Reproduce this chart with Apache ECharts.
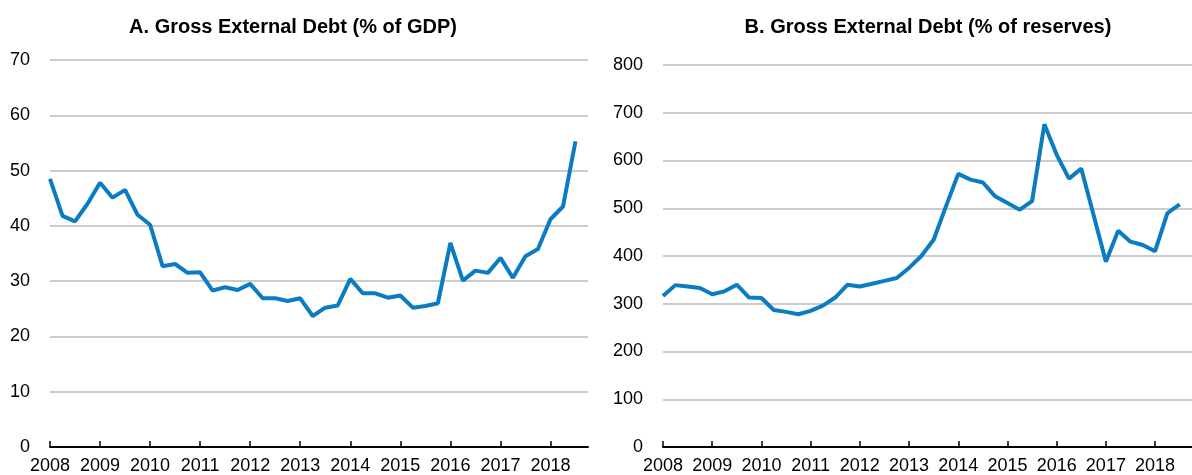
<!DOCTYPE html>
<html>
<head>
<meta charset="utf-8">
<script src="https://cdn.jsdelivr.net/npm/echarts@6/dist/echarts.min.js"></script>
<style>
  html, body { margin: 0; padding: 0; background: #fff; }
  #main { width: 1192px; height: 475px; }
</style>
</head>
<body>
<div id="main"></div>
<script>
// quarterly categories 2008Q1 .. 2018Q4
const quarters = []
for (let y = 2008; y <= 2018; y++) {
  for (let q = 1; q <= 4; q++) quarters.push(y + 'Q' + q)
}

// A. gross external debt, % of GDP (2008Q1 .. 2018Q3)
const debtGdp = [
  48.5, 41.8, 40.8, 44.0, 47.8, 45.1, 46.5, 42.0, 40.2, 32.7,
  33.1, 31.5, 31.6, 28.3, 28.9, 28.4, 29.5, 26.9, 26.9, 26.4,
  26.9, 23.7, 25.2, 25.6, 30.4, 27.8, 27.8, 27.0, 27.4, 25.2,
  25.5, 26.0, 36.9, 30.1, 31.9, 31.5, 34.2, 30.6, 34.5, 35.8,
  41.2, 43.5, 55.3
]

// B. gross external debt, % of reserves (2008Q1 .. 2018Q3)
const debtReserves = [
  316, 339, 336, 333, 320, 326, 340, 313, 312, 287,
  283, 278, 285, 296, 313, 340, 336, 342, 348, 354,
  375, 400, 434, 504, 572, 560, 554, 525, 511, 497,
  515, 676, 612, 562, 583, 486, 388, 453, 430, 423,
  410, 490, 508
]

const titleA = 'A. Gross External Debt (% of GDP)'
const titleB = 'B. Gross External Debt (% of reserves)'

const FONT = "'Liberation Sans', Arial, sans-serif"
const BLUE = '#0b7cc1'
const GRID = '#cccccc'

function xAxisFor(gridIndex) {
  return {
    type: 'category',
    gridIndex: gridIndex,
    data: quarters,
    boundaryGap: false,
    axisLine: { lineStyle: { color: '#000', width: 2 } },
    axisTick: { inside: true, length: 6, interval: 3, lineStyle: { color: '#000', width: 1.5 } },
    axisLabel: {
      interval: 3,
      margin: 10,
      color: '#000',
      fontFamily: FONT,
      fontSize: 18,
      formatter: v => v.slice(0, 4)
    },
    splitLine: { show: false }
  }
}

function yAxisFor(gridIndex, max, step) {
  return {
    type: 'value',
    gridIndex: gridIndex,
    min: 0,
    max: max,
    interval: step,
    axisLine: { show: false },
    axisTick: { show: false },
    axisLabel: { margin: 20, color: '#000', fontFamily: FONT, fontSize: 18 },
    splitLine: { lineStyle: { color: GRID, width: 2 } }
  }
}

const chart = echarts.init(document.getElementById('main'), null, { renderer: 'canvas' })
chart.setOption({
  animation: false,
  title: [
    { text: titleA, left: 288, top: 12, textAlign: 'center',
      textStyle: { fontFamily: FONT, fontWeight: 'bold', fontSize: 20, color: '#000' } },
    { text: titleB, left: 923, top: 12, textAlign: 'center',
      textStyle: { fontFamily: FONT, fontWeight: 'bold', fontSize: 20, color: '#000' } }
  ],
  grid: [
    { left: 50, right: 604, top: 60, bottom: 28 },
    { left: 663, right: -8, top: 65, bottom: 27 }
  ],
  xAxis: [xAxisFor(0), xAxisFor(1)],
  yAxis: [yAxisFor(0, 70, 10), yAxisFor(1, 800, 100)],
  series: [
    { type: 'line', xAxisIndex: 0, yAxisIndex: 0, data: debtGdp, showSymbol: false,
      lineStyle: { color: BLUE, width: 4 }, itemStyle: { color: BLUE } },
    { type: 'line', xAxisIndex: 1, yAxisIndex: 1, data: debtReserves, showSymbol: false,
      lineStyle: { color: BLUE, width: 4 }, itemStyle: { color: BLUE } }
  ]
})
</script>
</body>
</html>
